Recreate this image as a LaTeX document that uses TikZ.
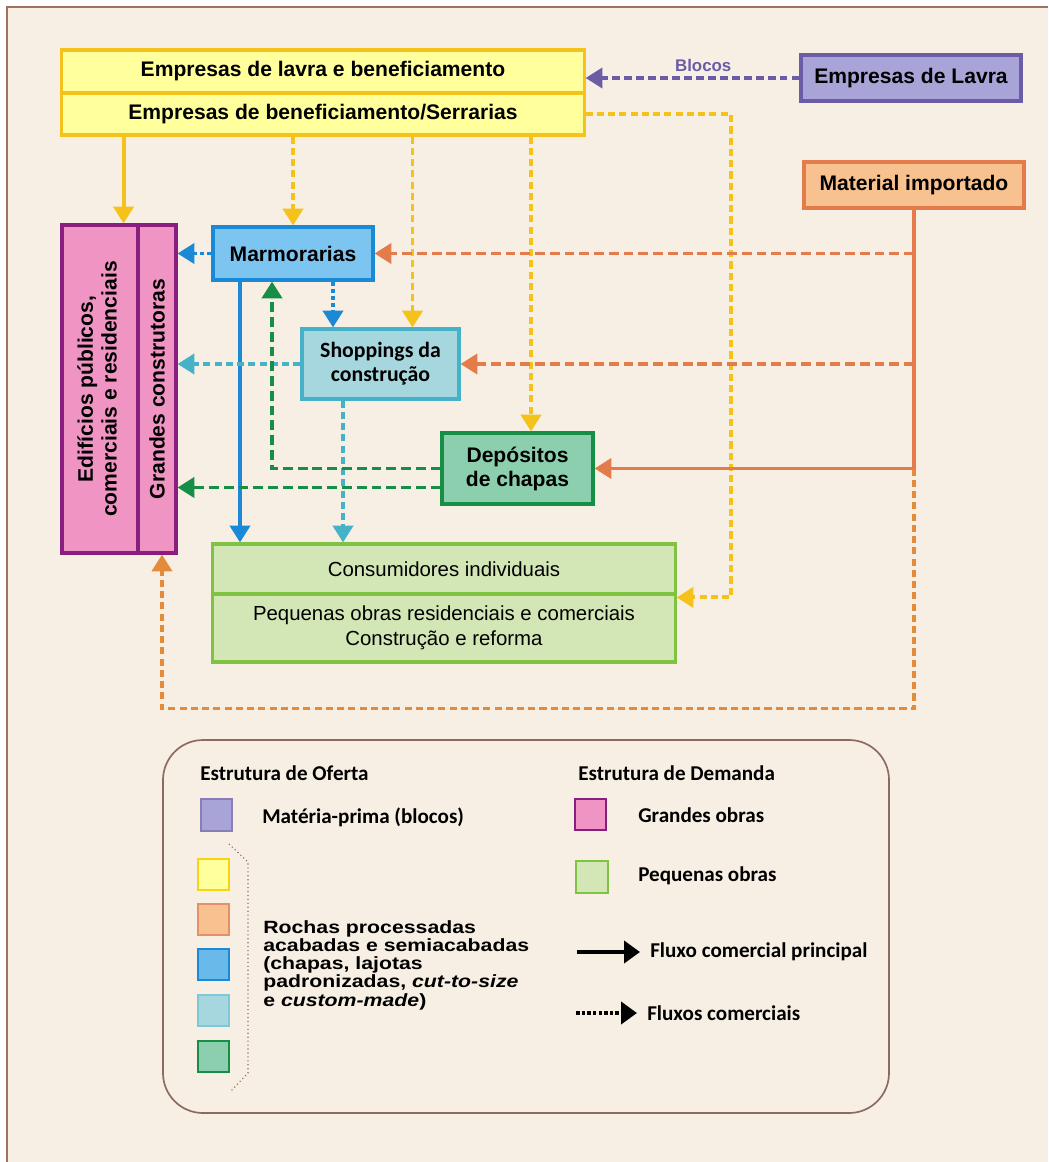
\documentclass[tikz,border=0pt]{standalone}
\usepackage{fontspec}
\setmainfont{Liberation Sans}
\newfontfamily\calib{Carlito}
\newfontfamily\largo[FakeStretch=1.2]{Liberation Sans}
\usetikzlibrary{arrows.meta,calc}

\definecolor{fundo}{HTML}{F7EFE4}
\definecolor{moldura}{HTML}{A07060}
\definecolor{amarF}{HTML}{FFFF9C}
\definecolor{amarL}{HTML}{F4C21B}
\definecolor{roxoF}{HTML}{A9A4D8}
\definecolor{roxoL}{HTML}{6B5CA5}
\definecolor{larF}{HTML}{F7C190}
\definecolor{larL}{HTML}{E37B4B}
\definecolor{larB}{HTML}{E38B3B}
\definecolor{azulF}{HTML}{7CC5F0}
\definecolor{azulL}{HTML}{1B8AD6}
\definecolor{cianoF}{HTML}{A6D6DE}
\definecolor{cianoL}{HTML}{45B2C8}
\definecolor{verdeF}{HTML}{8CCFAE}
\definecolor{verdeL}{HTML}{178E45}
\definecolor{rosaF}{HTML}{F095C3}
\definecolor{rosaL}{HTML}{8A1E7E}
\definecolor{ligF}{HTML}{D3E6B5}
\definecolor{ligL}{HTML}{80C242}
\definecolor{legcor}{HTML}{8B6A62}

\begin{document}
\begin{tikzpicture}[x=0.025cm,y=-0.025cm,>={Triangle[length=0.42cm,width=0.5cm]},
	caixa/.style={draw,line width=2.2pt,inner sep=0,align=center,font=\bfseries\fontsize{15}{17}\selectfont},
	fluxo/.style={line width=2.8pt},
	tracos/.style={dash pattern=on 5pt off 3pt},
	tracolongo/.style={dash pattern=on 7pt off 3.5pt},
	pontos/.style={dash pattern=on 3pt off 2pt},
	leg/.style={anchor=west,inner sep=0,font=\calib\bfseries\fontsize{15}{17}\selectfont},
	qd/.style={line width=1.5pt,minimum width=0.78cm,minimum height=0.78cm,inner sep=0}]

\useasboundingbox (0,0) rectangle (1048,1162);
\fill[fundo] (7,7) rectangle (1048,1162);
\draw[moldura,line width=1pt] (1048,7)--(7,7)--(7,1162);

\node[caixa,draw=amarL,fill=amarF,minimum width=13.05cm,minimum height=1.075cm] (lavra) at (323,71.5) {Empresas de lavra e beneficiamento};
\node[caixa,draw=amarL,fill=amarF,minimum width=13.05cm,minimum height=1.05cm] (serr) at (323,114) {Empresas de beneficiamento/Serrarias};
\node[caixa,draw=roxoL,fill=roxoF,minimum width=5.5cm,minimum height=1.15cm] (extr) at (911,78) {Empresas de Lavra};
\node[caixa,draw=larL,fill=larF,minimum width=5.5cm,minimum height=1.15cm] (imp) at (914,185) {Material importado};
\node[caixa,draw=rosaL,fill=rosaF,minimum width=1.9cm,minimum height=8.2cm] (edif) at (100,389)
	{\rotatebox{90}{\begin{tabular}{@{}c@{}}Edifícios públicos,\\comerciais e residenciais\end{tabular}}};
\node[caixa,draw=rosaL,fill=rosaF,minimum width=0.95cm,minimum height=8.2cm] (grand) at (157,389) {\rotatebox{90}{Grandes construtoras}};
\node[caixa,draw=azulL,fill=azulF,minimum width=4cm,minimum height=1.325cm] (marm) at (293,253.5) {Marmorarias};
\node[caixa,draw=cianoL,fill=cianoF,minimum width=3.925cm,minimum height=1.75cm,font=\calib\bfseries\fontsize{15.5}{17}\selectfont] (shop) at (380.5,364) {Shoppings da\\construção};
\node[caixa,draw=verdeL,fill=verdeF,minimum width=3.775cm,minimum height=1.775cm] (dep) at (517.5,468.5) {Depósitos\\de chapas};
\node[caixa,draw=ligL,fill=ligF,minimum width=11.55cm,minimum height=1.25cm,font=\fontsize{14.5}{18}\selectfont] (cons) at (444,569) {Consumidores individuais};
\node[caixa,draw=ligL,fill=ligF,minimum width=11.55cm,minimum height=1.7cm,font=\fontsize{14.5}{18}\selectfont] (peq) at (444,628) {Pequenas obras residenciais e comerciais\\Construção e reforma};

\draw[fluxo,roxoL,->,dash pattern=on 5.5pt off 3pt] (extr.west) -- node[pos=0.45,above=0.1cm,inner sep=0,font=\bfseries\fontsize{12}{14}\selectfont] (blocos) {Blocos} (extr.west -| lavra.east);

\coordinate (a1) at ($(edif.north east)+(-16,0)$);
\coordinate (a2) at ($(shop.north)+(32,0)$);
\coordinate (a3) at ($(dep.north)+(13.5,0)$);
\draw[fluxo,amarL,->] (a1 |- serr.south) -- (a1);
\draw[fluxo,amarL,tracos,->] (marm.north |- serr.south) -- (marm.north);
\draw[fluxo,amarL,tracos,->] (a2 |- serr.south) -- (a2);
\draw[fluxo,amarL,tracos,->] (a3 |- serr.south) -- (a3);
\draw[fluxo,amarL,tracos,->] (serr.east) -- ++(145,0) |- ($(peq.north east)+(0,5)$);

\coordinate (o1) at ($(grand.south)+(5,0)$);
\draw[fluxo,larL,->] (imp.south) |- (dep.east);
\draw[fluxo,larL,tracolongo,->] (imp.south |- marm.east) -- (marm.east);
\draw[fluxo,larL,tracolongo,->] (imp.south |- shop.east) -- (shop.east);
\draw[fluxo,larB,tracos,->] (imp.south |- dep.east) -- ++(0,240) -| (o1);

\coordinate (b1) at ($(marm.south)+(-53,0)$);
\coordinate (b2) at ($(marm.south)+(40,0)$);
\draw[fluxo,azulL,->] (b1) -- (b1 |- cons.north);
\draw[fluxo,azulL,pontos,->] (marm.west) -- (marm.west -| grand.east);
\draw[fluxo,azulL,pontos,->] (b2) -- (b2 |- shop.north);

\coordinate (c1) at ($(shop.south)+(-37.5,0)$);
\draw[fluxo,cianoL,tracos,->] (shop.west) -- (shop.west -| grand.east);
\draw[fluxo,cianoL,tracos,->] (c1) -- (c1 |- cons.north);

\coordinate (v1) at ($(marm.south)+(-21,0)$);
\coordinate (v2) at ($(dep.west)+(0,19)$);
\draw[fluxo,verdeL,tracolongo,->] (dep.west) -| (v1);
\draw[fluxo,verdeL,tracolongo,->] (v2) -- (v2 -| grand.east);

\draw[legcor,line width=1.2pt,rounded corners=1cm] (163,740) rectangle (889,1113);

\def\qd#1#2#3#4{\node[qd,draw=#3,fill=#4] (#1) at #2 {};}
\qd{qroxo}{(216.5,815)}{roxoL!80}{roxoF}
\qd{qamar}{(213.5,874.5)}{amarL!70!yellow}{amarF}
\qd{qlar}{(213.5,919.5)}{larL!85}{larF}
\qd{qazul}{(213.5,964.5)}{azulL}{azulF!80!azulL}
\qd{qciano}{(213.5,1010.5)}{cianoL!70}{cianoF}
\qd{qverde}{(213.5,1056.5)}{verdeL}{verdeF}
\qd{qrosa}{(590.5,814.5)}{rosaL}{rosaF}
\qd{qlig}{(592,877)}{ligL}{ligF}

\draw[legcor,line width=0.8pt,dotted] (229,844)--(248,862)--(248,1073)--(230,1092);

\node[leg] (toferta) at (200,773) {Estrutura de Oferta};
\node[leg] (tdemanda) at (578,773) {Estrutura de Demanda};
\node[leg] (tmat) at (262,817) {Matéria-prima (blocos)};
\node[leg] (tgrandes) at (638,815) {Grandes obras};
\node[leg] (tpequenas) at (638,876) {Pequenas obras};
\node[leg] (tprinc) at (650,952) {Fluxo comercial principal};
\node[leg] (tfluxos) at (647,1013) {Fluxos comerciais};
\node[anchor=west,inner sep=0,align=left,font=\largo\bfseries\fontsize{12.6}{13}\selectfont] (trochas) at (263,965)
	{Rochas processadas\\acabadas e semiacabadas\\(chapas, lajotas\\padronizadas, \textit{cut-to-size}\\e \textit{custom-made})};

\coordinate (p1) at (577,952);
\coordinate (p2) at (576,1013);
\draw[line width=3pt,-{Triangle[length=0.4cm,width=0.55cm]}] (p1) -- ($(tprinc.west)+(-10,0)$);
\draw[line width=3pt,dash pattern=on 2.5pt off 1.5pt,-{Triangle[length=0.4cm,width=0.55cm]}] (p2) -- ($(tfluxos.west)+(-10,0)$);

\end{tikzpicture}
\end{document}
